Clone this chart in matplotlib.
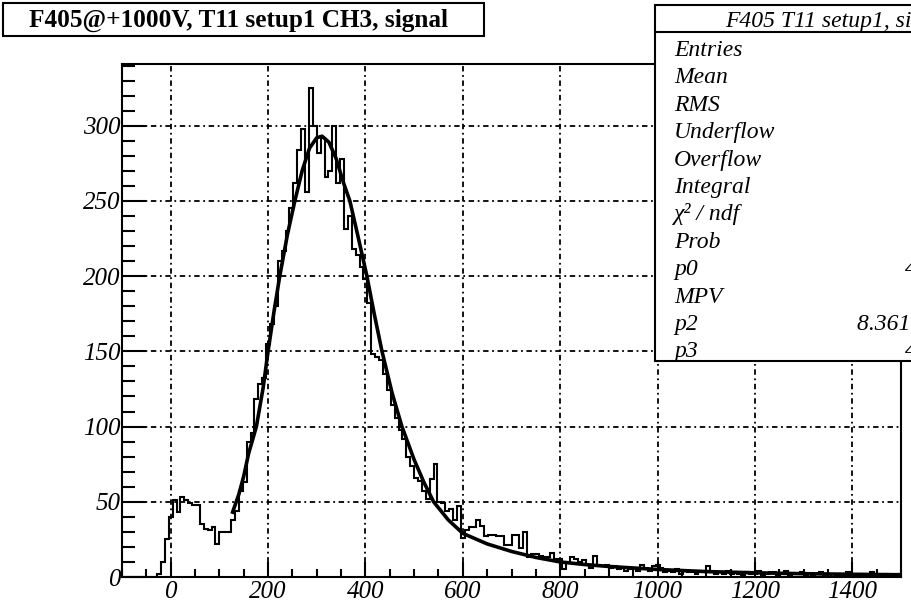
import numpy as np
import matplotlib
matplotlib.use("Agg")
import matplotlib.pyplot as plt
from matplotlib.patches import Rectangle
from matplotlib.ticker import MultipleLocator

# histogram: 200 bins of width 8 from -100 to 1500
bin_lo = -100
bin_width = 8
counts = [
    0, 0, 0, 0, 0, 0, 0, 0, 0, 2,
    10, 25, 40, 51, 43, 53, 51, 49, 48, 48,
    35, 32, 31, 33, 22, 30, 30, 30, 38, 44,
    57, 63, 90, 96, 118, 128, 132, 155, 168, 180,
    210, 217, 230, 245, 262, 284, 298, 256, 325, 300,
    282, 292, 266, 270, 300, 262, 278, 231, 240, 218,
    214, 206, 198, 182, 148, 146, 144, 135, 124, 114,
    106, 98, 92, 80, 74, 66, 64, 57, 52, 65,
    75, 50, 49, 44, 45, 38, 47, 26, 31, 33,
    33, 38, 34, 27, 28, 28, 27, 27, 21, 21,
    28, 28, 19, 30, 13, 15, 15, 14, 13, 13,
    16, 12, 12, 5, 10, 13, 12, 10, 11, 8,
    6, 14, 8, 7, 8, 6, 7, 5, 6, 4,
    5, 6, 4, 8, 6, 4, 7, 8, 6, 3,
    4, 3, 5, 2, 4, 3, 3, 2, 4, 3,
    7, 3, 2, 3, 2, 4, 2, 3, 2, 1,
    3, 2, 2, 4, 1, 2, 3, 3, 1, 2,
    4, 1, 2, 2, 3, 1, 2, 1, 2, 3,
    1, 0, 2, 1, 2, 1, 3, 1, 0, 2,
    1, 2, 3, 0, 1, 0, 2, 0, 0, 2,
]

# fit curve
fit_x = [126, 140, 150, 160, 176, 190, 200, 212, 224, 240, 255, 270, 285, 300,
         311, 325, 340, 355, 368, 385, 403, 418, 434, 455, 475, 500, 520, 540,
         570, 600, 650, 700, 750, 800, 850, 900, 1000, 1100, 1200, 1300, 1400, 1500]
fit_y = [42, 55, 67, 82, 100, 126, 150, 176, 200, 228, 250, 270, 285, 292,
         293, 289, 278, 262, 250, 226, 200, 175, 150, 122, 100, 78, 63, 50,
         38, 29, 22, 17, 13, 10, 8.3, 7, 5, 3.6, 2.8, 2.2, 1.8, 1.5]

title = "F405@+1000V, T11 setup1 CH3, signal"
stats_name = "F405 T11 setup1, signal"
stats_labels = ["Entries", "Mean", "RMS", "Underflow", "Overflow", "Integral",
                "χ² / ndf", "Prob", "p0", "MPV", "p2", "p3"]
stats_values = {"p0": "4.126 ± 0.15", "p2": "8.361e+04 ± 320", "p3": "4.58 ± 0.9"}

serif = "Liberation Serif"
W, H = 911, 604

fig = plt.figure(figsize=(W / 100, H / 100), dpi=100)
ax = fig.add_axes([122 / W, 1 - 577 / H, (901 - 122) / W, (577 - 64) / H])

edges = bin_lo + bin_width * np.arange(len(counts) + 1)
ax.stairs(counts, edges, color="black", lw=1.5, baseline=0, zorder=3)
ax.plot(fit_x, fit_y, color="black", lw=2.6, zorder=4, solid_capstyle="butt")

ax.set_xlim(-100, 1500)
ax.set_ylim(0, 341)

ax.xaxis.set_major_locator(MultipleLocator(200))
ax.xaxis.set_minor_locator(MultipleLocator(50))
ax.yaxis.set_major_locator(MultipleLocator(50))
ax.yaxis.set_minor_locator(MultipleLocator(10))

ax.tick_params(axis="x", which="major", direction="in", length=11, width=1.5, pad=3)
ax.tick_params(axis="x", which="minor", direction="in", length=6, width=1.5)
ax.tick_params(axis="y", which="major", direction="in", length=17, width=1.5, pad=1)
ax.tick_params(axis="y", which="minor", direction="in", length=9.5, width=1.5)
for lab in ax.get_xticklabels() + ax.get_yticklabels():
    lab.set_fontfamily(serif)
    lab.set_fontstyle("italic")
    lab.set_fontsize(18)

for sp in ax.spines.values():
    sp.set_linewidth(1.5)

ax.grid(True, which="major", color="black", lw=1.3, linestyle=(0, (3, 2, 1, 2)))
ax.set_axisbelow(True)

# title box
fig.patches.append(Rectangle((3 / W, 1 - 36 / H), 481 / W, 33 / H,
                             transform=fig.transFigure, fill=False,
                             ec="black", lw=1.5, zorder=5))
fig.text(239 / W, 1 - 20 / H, title, ha="center", va="center",
         fontfamily=serif, fontweight="bold", fontsize=18.2)

# stats box (runs off the right edge, as in the original)
box = Rectangle((655 / W, 1 - 361 / H), 400 / W, 356 / H,
                transform=fig.transFigure, fc="white", ec="black",
                lw=1.5, zorder=5)
fig.patches.append(box)
fig.lines.append(plt.Line2D([655 / W, 1.2], [1 - 31.5 / H] * 2,
                            transform=fig.transFigure, color="black",
                            lw=1.5, zorder=6))
fig.text(725 / W, 1 - 27 / H, stats_name, ha="left", va="baseline",
         fontfamily=serif, fontstyle="italic", fontsize=17, zorder=6)

y0 = 56
for i, name in enumerate(stats_labels):
    yb = 1 - (y0 + i * 27.4) / H
    t = fig.text(674 / W, yb, name, ha="left", va="baseline",
                 fontfamily=serif, fontstyle="italic", fontsize=17, zorder=6)
    t.set_clip_path(box)
    if name in stats_values:
        xv = 857 if name == "p2" else 905
        tv = fig.text(xv / W, yb, stats_values[name], ha="left", va="baseline",
                      fontfamily=serif, fontstyle="italic", fontsize=17, zorder=6)
        tv.set_clip_path(box)

fig.savefig("out.png", dpi=100)
